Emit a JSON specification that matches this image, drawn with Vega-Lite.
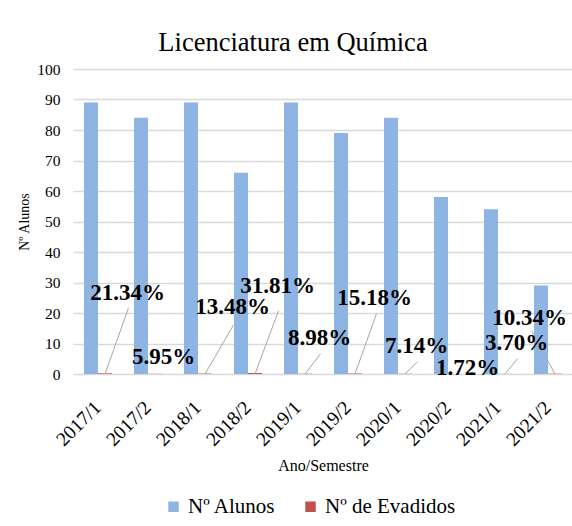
{
  "$schema": "https://vega.github.io/schema/vega-lite/v6.json",
  "width": 500,
  "height": 305,
  "autosize": {"type": "none"},
  "padding": {"left": 73, "top": 69, "right": 0, "bottom": 152},
  "background": "white",
  "config": {
    "view": {"stroke": null},
    "font": "Liberation Serif",
    "axis": {
      "labelFont": "Liberation Serif",
      "titleFont": "Liberation Serif",
      "labelColor": "#000000",
      "titleColor": "#000000",
      "titleFontWeight": "normal",
      "domain": false,
      "ticks": false
    },
    "axisX": {
      "labelFontSize": 19.5,
      "labelAngle": -45,
      "labelAlign": "right",
      "labelBaseline": "middle",
      "labelPadding": 30,
      "titleFontSize": 16,
      "titlePadding": 8,
      "grid": false
    },
    "axisY": {
      "labelFontSize": 15.5,
      "labelPadding": 13,
      "titleFontSize": 14,
      "titlePadding": 5,
      "tickCount": 10,
      "labelOverlap": false,
      "gridColor": "#d9d9d9",
      "gridWidth": 1.5
    },
    "legend": {
      "labelFont": "Liberation Serif",
      "labelFontSize": 21,
      "labelColor": "#000000"
    }
  },
  "title": {
    "text": "Licenciatura em Química",
    "font": "Liberation Serif",
    "fontSize": 26.5,
    "fontWeight": "normal",
    "color": "#000000",
    "anchor": "middle",
    "frame": "group",
    "dx": -30,
    "dy": 25,
    "baseline": "alphabetic",
    "offset": 10
  },
  "datasets": {
    "main": [
      {"periodo": "2017/1", "serie": "Nº Alunos", "valor": 89},
      {"periodo": "2017/1", "serie": "Nº de Evadidos", "valor": 0.2134},
      {"periodo": "2017/2", "serie": "Nº Alunos", "valor": 84},
      {"periodo": "2017/2", "serie": "Nº de Evadidos", "valor": 0.0595},
      {"periodo": "2018/1", "serie": "Nº Alunos", "valor": 89},
      {"periodo": "2018/1", "serie": "Nº de Evadidos", "valor": 0.1348},
      {"periodo": "2018/2", "serie": "Nº Alunos", "valor": 66},
      {"periodo": "2018/2", "serie": "Nº de Evadidos", "valor": 0.3181},
      {"periodo": "2019/1", "serie": "Nº Alunos", "valor": 89},
      {"periodo": "2019/1", "serie": "Nº de Evadidos", "valor": 0.0898},
      {"periodo": "2019/2", "serie": "Nº Alunos", "valor": 79},
      {"periodo": "2019/2", "serie": "Nº de Evadidos", "valor": 0.1518},
      {"periodo": "2020/1", "serie": "Nº Alunos", "valor": 84},
      {"periodo": "2020/1", "serie": "Nº de Evadidos", "valor": 0.0714},
      {"periodo": "2020/2", "serie": "Nº Alunos", "valor": 58},
      {"periodo": "2020/2", "serie": "Nº de Evadidos", "valor": 0.0172},
      {"periodo": "2021/1", "serie": "Nº Alunos", "valor": 54},
      {"periodo": "2021/1", "serie": "Nº de Evadidos", "valor": 0.037},
      {"periodo": "2021/2", "serie": "Nº Alunos", "valor": 29},
      {"periodo": "2021/2", "serie": "Nº de Evadidos", "valor": 0.1034}
    ],
    "rotulos": [
      {"periodo": "2017/1", "taxa": 0.2134, "lx": 0.87, "ly": 26.6},
      {"periodo": "2017/2", "taxa": 0.0595, "lx": 0.59, "ly": 5.7},
      {"periodo": "2018/1", "taxa": 0.1348, "lx": 0.97, "ly": 22.0},
      {"periodo": "2018/2", "taxa": 0.3181, "lx": 0.87, "ly": 28.9},
      {"periodo": "2019/1", "taxa": 0.0898, "lx": 0.71, "ly": 11.9},
      {"periodo": "2019/2", "taxa": 0.1518, "lx": 0.81, "ly": 25.0},
      {"periodo": "2020/1", "taxa": 0.0714, "lx": 0.65, "ly": 9.3},
      {"periodo": "2020/2", "taxa": 0.0172, "lx": 0.67, "ly": 2.1},
      {"periodo": "2021/1", "taxa": 0.037, "lx": 0.65, "ly": 10.3},
      {"periodo": "2021/2", "taxa": 0.1034, "lx": -0.09, "ly": 18.4}
    ],
    "guias": [
      {"periodo": "2017/1", "ordem": 1, "gx": 0.42, "gy": 0},
      {"periodo": "2017/1", "ordem": 2, "gx": 0.89, "gy": 21.7},
      {"periodo": "2018/1", "ordem": 1, "gx": 0.42, "gy": 0},
      {"periodo": "2018/1", "ordem": 2, "gx": 0.99, "gy": 16.1},
      {"periodo": "2018/2", "ordem": 1, "gx": 0.42, "gy": 0},
      {"periodo": "2018/2", "ordem": 2, "gx": 0.89, "gy": 20.7},
      {"periodo": "2019/1", "ordem": 1, "gx": 0.42, "gy": 0},
      {"periodo": "2019/1", "ordem": 2, "gx": 0.73, "gy": 6.6},
      {"periodo": "2019/2", "ordem": 1, "gx": 0.42, "gy": 0},
      {"periodo": "2019/2", "ordem": 2, "gx": 0.85, "gy": 19.8},
      {"periodo": "2020/1", "ordem": 1, "gx": 0.42, "gy": 0},
      {"periodo": "2020/1", "ordem": 2, "gx": 0.67, "gy": 4.0},
      {"periodo": "2021/1", "ordem": 1, "gx": 0.42, "gy": 0},
      {"periodo": "2021/1", "ordem": 2, "gx": 0.67, "gy": 5.0},
      {"periodo": "2021/2", "ordem": 1, "gx": 0.42, "gy": 0},
      {"periodo": "2021/2", "ordem": 2, "gx": -0.05, "gy": 14.2}
    ]
  },
  "resolve": {"scale": {"xOffset": "independent"}},
  "layer": [
    {
      "data": {"name": "main"},
      "mark": {"type": "bar"},
      "encoding": {
        "x": {
          "field": "periodo",
          "type": "nominal",
          "sort": null,
          "scale": {"paddingInner": 0.44, "paddingOuter": 0.22},
          "axis": {"title": "Ano/Semestre"}
        },
        "xOffset": {"field": "serie", "type": "nominal", "scale": {"paddingInner": 0, "paddingOuter": 0}},
        "y": {
          "field": "valor",
          "type": "quantitative",
          "scale": {"domain": [0, 100], "nice": false},
          "axis": {"title": "Nº Alunos"}
        },
        "color": {
          "field": "serie",
          "type": "nominal",
          "scale": {"domain": ["Nº Alunos", "Nº de Evadidos"], "range": ["#8eb4e3", "#c0504d"]},
          "legend": {
            "title": null,
            "orient": "none",
            "direction": "horizontal",
            "legendX": 90,
            "legendY": 427,
            "symbolType": "square",
            "symbolSize": 110,
            "symbolStrokeWidth": 0,
            "labelOffset": 4,
            "columnPadding": 24
          }
        }
      }
    },
    {
      "data": {"name": "guias"},
      "mark": {"type": "line", "color": "#a6a6a6", "strokeWidth": 1},
      "encoding": {
        "x": {"field": "periodo", "type": "nominal", "sort": null, "bandPosition": 0},
        "xOffset": {"field": "gx", "type": "quantitative", "scale": {"domain": [0, 1], "range": [0, 50]}},
        "y": {"field": "gy", "type": "quantitative"},
        "detail": {"field": "periodo"},
        "order": {"field": "ordem"}
      }
    },
    {
      "data": {"name": "rotulos"},
      "mark": {"type": "text", "font": "Liberation Serif", "fontSize": 23, "fontWeight": "bold", "color": "#000000", "align": "center", "baseline": "middle"},
      "encoding": {
        "x": {"field": "periodo", "type": "nominal", "sort": null, "bandPosition": 0},
        "xOffset": {"field": "lx", "type": "quantitative", "scale": {"domain": [0, 1], "range": [0, 50]}},
        "y": {"field": "ly", "type": "quantitative"},
        "text": {"field": "taxa", "type": "quantitative", "format": ".2%"}
      }
    }
  ]
}
